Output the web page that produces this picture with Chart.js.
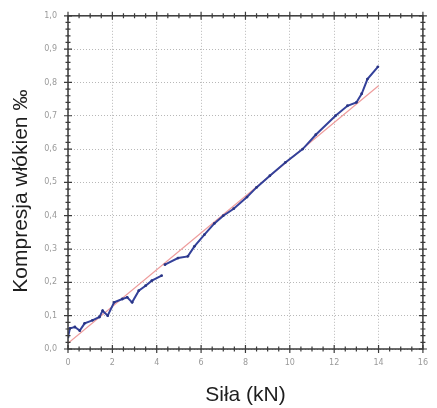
<!DOCTYPE html>
<html>
<head>
<meta charset="utf-8">
<script src="https://cdn.jsdelivr.net/npm/chart.js@4"></script>
<style>
  html, body { margin: 0; padding: 0; background: #fff; }
  #wrap { width: 437px; height: 408px; }
</style>
</head>
<body>
<div id="wrap"><canvas id="chart" width="437" height="408"></canvas></div>
<script>
// measured curve (force in kN, fibre compression in per mille)
const forceKN = [0, 0.09, 0.31, 0.53, 0.75, 1.1, 1.42, 1.56, 1.79, 2.08, 2.45, 2.67, 2.89, 3.19, 3.5, 3.78, 4.22,
  4.3, 4.37, 4.96, 5.4, 5.7, 6.15, 6.6, 7.0, 7.47, 8.07, 8.5, 9.1, 9.8, 10.58, 11.17, 12.06, 12.6, 13.0, 13.24, 13.5, 13.97];
const compression = [0.036, 0.062, 0.066, 0.055, 0.077, 0.086, 0.096, 0.115, 0.10, 0.14, 0.15, 0.155, 0.14, 0.175, 0.19, 0.205, 0.22,
  null, 0.253, 0.273, 0.278, 0.308, 0.343, 0.377, 0.40, 0.421, 0.456, 0.485, 0.52, 0.56, 0.60, 0.643, 0.70, 0.73, 0.74, 0.766, 0.81, 0.847];

// linear fit line
const fitX = [0, 14];
const fitY = [0.017, 0.79];

const xTicks = [0, 2, 4, 6, 8, 10, 12, 14, 16];
const yTicks = [0, 0.1, 0.2, 0.3, 0.4, 0.5, 0.6, 0.7, 0.8, 0.9, 1.0];

const measured = forceKN.map((x, i) => ({ x: x, y: compression[i] }));
const fit = fitX.map((x, i) => ({ x: x, y: fitY[i] }));

// frame + small ticks on all four sides
const framePlugin = {
  id: "frame",
  afterDraw(chart) {
    const ctx = chart.ctx;
    const a = chart.chartArea;
    const xs = chart.scales.x, ys = chart.scales.y;
    ctx.save();
    ctx.strokeStyle = "#3a3a3a";
    ctx.lineWidth = 1.5;
    ctx.strokeRect(a.left, a.top, a.right - a.left, a.bottom - a.top);
    ctx.lineWidth = 1.2;
    ctx.beginPath();
    for (let v = 0; v <= 16.001; v += 0.5) {
      const px = xs.getPixelForValue(v);
      const len = (Math.abs(v % 2) < 0.01) ? 4 : 2.5;
      ctx.moveTo(px, a.bottom - len); ctx.lineTo(px, a.bottom + len);
      ctx.moveTo(px, a.top - len); ctx.lineTo(px, a.top + len);
    }
    for (let v = 0; v <= 1.0001; v += 0.02) {
      const py = ys.getPixelForValue(v);
      const len = (Math.abs(Math.round(v * 10) - v * 10) < 0.01) ? 4 : 2.5;
      ctx.moveTo(a.left - len, py); ctx.lineTo(a.left + len, py);
      ctx.moveTo(a.right - len, py); ctx.lineTo(a.right + len, py);
    }
    ctx.stroke();
    ctx.restore();
  }
};

new Chart(document.getElementById("chart"), {
  type: "scatter",
  data: {
    datasets: [
      {
        label: "fit",
        data: fit,
        showLine: true,
        borderColor: "#ee9c9c",
        borderWidth: 1.2,
        pointRadius: 0,
        order: 2
      },
      {
        label: "pomiar",
        data: measured,
        showLine: true,
        spanGaps: false,
        borderColor: "#34419a",
        backgroundColor: "#2a3585",
        borderWidth: 2,
        pointRadius: 1.4,
        pointBorderWidth: 0,
        order: 1
      }
    ]
  },
  options: {
    responsive: false,
    animation: false,
    devicePixelRatio: 1,
    layout: { padding: { top: 11, right: 8, left: 0, bottom: 0 } },
    plugins: { legend: { display: false }, tooltip: { enabled: false } },
    scales: {
      x: {
        type: "linear",
        min: 0, max: 16,
        afterBuildTicks: s => { s.ticks = xTicks.map(v => ({ value: v })); },
        afterFit: s => { s.height = 59; },
        border: { display: false, dash: [1, 2] },
        grid: { color: "#b8b8b8", lineWidth: 1, drawTicks: false },
        ticks: { color: "#9a9a9a", font: { size: 8, family: "DejaVu Sans" }, padding: 9 },
        title: {
          display: true, text: "Siła (kN)", color: "#1e1e1e",
          font: { size: 21, family: "Liberation Sans" }, padding: { top: 0, bottom: 0 }
        }
      },
      y: {
        type: "linear",
        min: 0, max: 1,
        afterBuildTicks: s => { s.ticks = yTicks.map(v => ({ value: v })); },
        afterFit: s => { s.width = 68; },
        border: { display: false, dash: [1, 2] },
        grid: { color: "#b8b8b8", lineWidth: 1, drawTicks: false },
        ticks: {
          color: "#9a9a9a", font: { size: 8, family: "DejaVu Sans" }, padding: 11,
          callback: v => v.toFixed(1).replace(".", ",")
        },
        title: {
          display: true, text: "Kompresja włókien ‰   ", color: "#1e1e1e",
          font: { size: 21, family: "Liberation Sans" }, padding: { top: 9, bottom: 0 }
        }
      }
    }
  },
  plugins: [framePlugin]
});
</script>
</body>
</html>
